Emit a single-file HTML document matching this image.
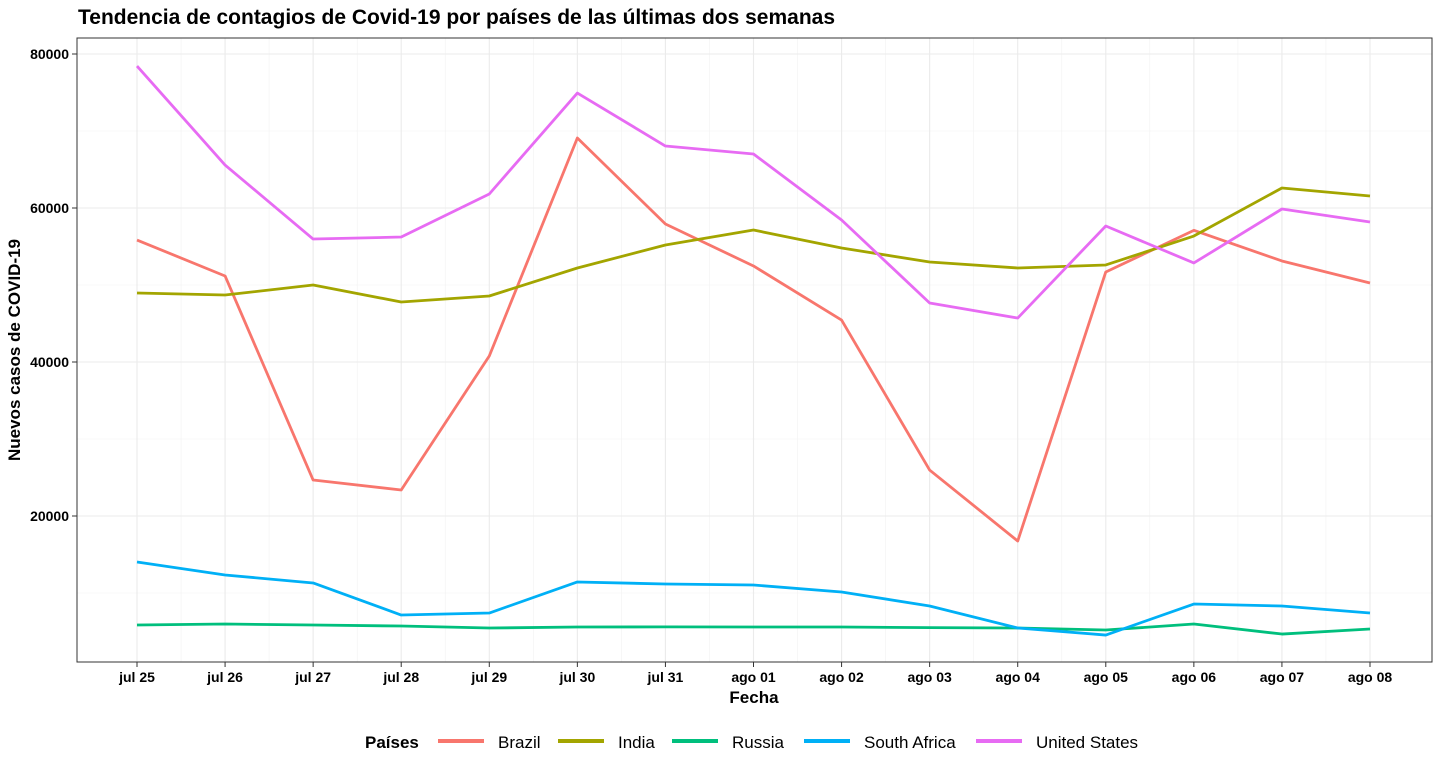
<!DOCTYPE html>
<html><head><meta charset="utf-8"><style>
body{margin:0;background:#fff;font-family:"Liberation Sans",sans-serif;}
svg text{font-family:"Liberation Sans",sans-serif;}
</style></head><body>
<svg id="chart" width="1440" height="768">
<text x="78" y="24" font-size="21" font-weight="bold">Tendencia de contagios de Covid-19 por países de las últimas dos semanas</text>
<g id="grid"></g>
<g id="lines"></g>
<rect x="77" y="38" width="1355" height="624" fill="none" stroke="#333" stroke-width="1"/>
<g id="axes"></g>
<text x="754" y="703" font-size="17" font-weight="bold" text-anchor="middle">Fecha</text>
<text transform="translate(20,350) rotate(-90)" font-size="17" font-weight="bold" text-anchor="middle">Nuevos casos de COVID-19</text>
<g id="legend"></g>
</svg>
<script>
const categories=["jul 25","jul 26","jul 27","jul 28","jul 29","jul 30","jul 31","ago 01","ago 02","ago 03","ago 04","ago 05","ago 06","ago 07","ago 08"];
const seriesNames=["Brazil","India","Russia","South Africa","United States"];
const brazil=[55840,51170,24670,23380,40780,69090,57920,52470,45450,25970,16750,51690,57100,53120,50260];
const india=[48960,48700,50000,47790,48570,52210,55190,57140,54800,52990,52210,52600,56360,62600,61560];
const russia=[5840,5970,5840,5710,5450,5580,5600,5580,5580,5500,5450,5190,5970,4670,5320];
const southAfrica=[14020,12340,11300,7140,7400,11430,11170,11040,10130,8310,5450,4540,8570,8310,7400];
const unitedStates=[78440,65580,55970,56230,61820,74930,68050,67010,58440,47660,45710,57660,52860,59870,58180];
const yTicks=[20000,40000,60000,80000];
const colors=["#F8766D","#A3A500","#00BF7D","#00B0F6","#E76BF3"];
const allSeries=[brazil,india,russia,southAfrica,unitedStates];
const NS="http://www.w3.org/2000/svg";
const x=i=>137+i*(1233/14);
const y=v=>670-v*154/20000;
function mk(tag,attrs,parent){const e=document.createElementNS(NS,tag);for(const k in attrs)e.setAttribute(k,attrs[k]);parent.appendChild(e);return e;}
const grid=document.getElementById('grid'),axes=document.getElementById('axes'),lines=document.getElementById('lines'),legend=document.getElementById('legend');
for(let i=0;i<categories.length-1;i++){const xm=(x(i)+x(i+1))/2;const l=mk('line',{x1:xm,x2:xm,y1:38,y2:662,stroke:'#f2f2f2','stroke-width':0.6},grid);

}
for(let t=10000;t<=70000;t+=20000){const l=mk('line',{x1:77,x2:1432,y1:y(t),y2:y(t),stroke:'#f2f2f2','stroke-width':0.6},grid);

}
categories.forEach((c,i)=>{const l=mk('line',{x1:x(i),x2:x(i),y1:38,y2:662,stroke:'#ebebeb','stroke-width':1.1},grid);


const tk=mk('line',{x1:x(i),x2:x(i),y1:662,y2:667,stroke:'#333'},axes);


const t=mk('text',{x:x(i),y:682,'font-size':14,'font-weight':'bold','text-anchor':'middle'},axes);t.textContent=c;

});
yTicks.forEach(v=>{const l=mk('line',{x1:77,x2:1432,y1:y(v),y2:y(v),stroke:'#ebebeb','stroke-width':1.1},grid);


const tk=mk('line',{x1:72,x2:77,y1:y(v),y2:y(v),stroke:'#333'},axes);


const t=mk('text',{x:69,y:y(v)+5,'font-size':14,'font-weight':'bold','text-anchor':'end'},axes);t.textContent=v;

});
allSeries.forEach((s,k)=>{const p=mk('polyline',{points:s.map((v,i)=>x(i)+','+y(v)).join(' '),fill:'none',stroke:colors[k],'stroke-width':2.8,'stroke-linejoin':'round'},lines);

});
const lt=mk('text',{x:365,y:748,'font-size':17,'font-weight':'bold'},legend);lt.textContent='Países';


const lx=[438,558,672,804,976];
seriesNames.forEach((n,k)=>{const g=mk('g',{},legend);


mk('line',{x1:lx[k],x2:lx[k]+46,y1:741,y2:741,stroke:colors[k],'stroke-width':4},g);
const t=mk('text',{x:lx[k]+60,y:748,'font-size':17},g);t.textContent=n;});
</script>
</body></html>
